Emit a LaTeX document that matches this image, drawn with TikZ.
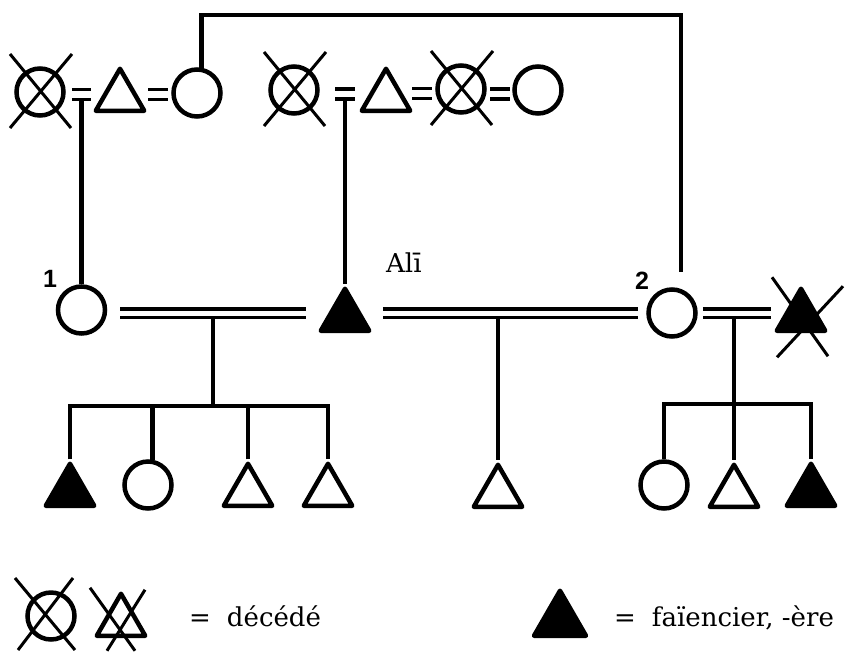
\documentclass[tikz,border=0pt]{standalone}
\usepackage{fontspec}
\setmainfont{DejaVu Serif}
\newfontfamily\numfont{Liberation Sans}
\usetikzlibrary{shapes.geometric,calc}

\tikzset{
  female/.style={circle, draw, line width=4.5pt, minimum size=47pt, inner sep=0pt},
  male/.style={regular polygon, regular polygon sides=3, draw, line width=4.5pt,
    line join=round, minimum size=56pt, inner sep=0pt},
  potter/.style={male, fill=black},
  conn/.style={line width=4.5pt},
  crossline/.style={line width=3pt},
  eqbar/.style={draw, line width=3.5pt},
  eqsign/.style={inner sep=0pt, minimum width=19pt, minimum height=10pt,
    append after command={(\tikzlastnode.north west) edge[eqbar] (\tikzlastnode.north east)
      (\tikzlastnode.south west) edge[eqbar] (\tikzlastnode.south east)}},
  marriage/.style={line width=3.2pt, double=white, double distance=5pt},
  numlbl/.style={inner sep=0pt, font=\numfont\bfseries\fontsize{25}{28}\selectfont},
  namelbl/.style={inner sep=0pt, font=\fontsize{26}{30}\selectfont},
  legtext/.style={inner sep=0pt, font=\fontsize{26}{30}\selectfont},
}

% two strokes through a symbol: deceased
\newcommand\deadmark[1]{%
  \draw[crossline] ([shift={(-30,-38)}]#1.center) -- ([shift={(31,36)}]#1.center)
                   ([shift={(32,-38)}]#1.center) -- ([shift={(-30,36)}]#1.center);}

\begin{document}
\begin{tikzpicture}[x=1pt,y=-1pt]
\fill[white] (0,0) rectangle (845,651);
\useasboundingbox (0,0) rectangle (845,651);

% first generation
\node[female] (A) at (40,92) {};
\node[eqsign] (m1) at (81.5,94.5) {};
\node[male]   (B) at (120,96.75) {};
\node[eqsign] (m2) at (158,94.5) {};
\node[female] (C) at (197,93) {};
\node[female] (D) at (294,90) {};
\node[eqsign] (m3) at (345,94) {};
\node[male]   (E) at (386,96.75) {};
\node[eqsign] (m4) at (422,93.5) {};
\node[female] (F) at (461,89) {};
\node[eqsign] (m5) at (500,94) {};
\node[female] (G) at (538,90) {};
\deadmark{A}
\deadmark{D}
\deadmark{F}

% second generation
\node[female] (P1)  at (81.5,310) {};
\node[potter] (Ali) at (345,316.75) {};
\node[female] (P2)  at (672,313) {};
\node[potter] (H)   at (801,316.75) {};
\draw[crossline] ([shift={(-29,-39.5)}]H.center) -- ([shift={(27,39.5)}]H.center)
                 ([shift={(42,-30.5)}]H.center) -- ([shift={(-24,40.5)}]H.center);

\node[numlbl] (n1) at (50,279) {1};
\node[numlbl] (n2) at (642,281) {2};
\node[namelbl, anchor=base west] (nAli) at (386,272) {Alī};

% third generation
\node[potter] (k1) at (70,491.75) {};
\node[female] (k2) at (148,485) {};
\node[male]   (k3) at (248,491.75) {};
\node[male]   (k4) at (328,491.75) {};
\node[male]   (k5) at (498,492.75) {};
\node[female] (k6) at (664,485) {};
\node[male]   (k7) at (734,492.75) {};
\node[potter] (k8) at (811,491.75) {};

% descent lines
\draw[conn] (m1.south) -- (P1.north);
\draw[conn] (m3.south) -- (Ali.north);
\coordinate (tc)  at (681,15);
\coordinate (p2t) at (681,272);
\draw[conn] (C.80) |- (tc) -- (p2t);

% marriages
\coordinate (lvl) at (0,313);
\draw[marriage] ([xshift=13pt]P1.east |- lvl) -- ([xshift=-20pt]Ali.west |- lvl);
\draw[marriage] ([xshift=19pt]Ali.east |- lvl) -- ([xshift=-8pt]P2.west |- lvl);
\draw[marriage] ([xshift=5pt]P2.east |- lvl) -- ([xshift=-11pt]H.west |- lvl);

% sibling groups
\coordinate (d1) at (213,317);
\coordinate (s1) at (213,406);
\draw[conn] (d1) -- (s1);
\draw[conn] (k1.north) |- (s1) -| (k4.north);
\draw[conn] (k2.80) -- (k2.80 |- s1);
\draw[conn] (k3.north) -- (k3.north |- s1);

\coordinate (d2) at (498,317);
\draw[conn] (d2) -- (k5.north);

\coordinate (d3) at (734,317);
\coordinate (s3) at (734,404);
\draw[conn] (d3) -- (k7.north);
\draw[conn] (k6.north) |- (s3) -| (k8.north);

% key
\node[female] (L1) at (51,616) {};
\draw[crossline] ([shift={(-36,-38)}]L1.center) -- ([shift={(24,34)}]L1.center)
                 ([shift={(22,-38)}]L1.center) -- ([shift={(-33,34)}]L1.center);
\node[male] (L2) at (121,621.75) {};
\draw[crossline] ([shift={(-31,-34)}]L2.center) -- ([shift={(14,29)}]L2.center)
                 ([shift={(24,-32)}]L2.center) -- ([shift={(-14,29)}]L2.center);
\node[legtext, anchor=base west] (t1) at (189,626) {=\hspace{16pt}décédé};

\node[potter, minimum size=60pt] (L3) at (560,620.75) {};
\node[legtext, anchor=base west] (t2) at (614,626) {=\hspace{16pt}faïencier, -ère};
\end{tikzpicture}
\end{document}
